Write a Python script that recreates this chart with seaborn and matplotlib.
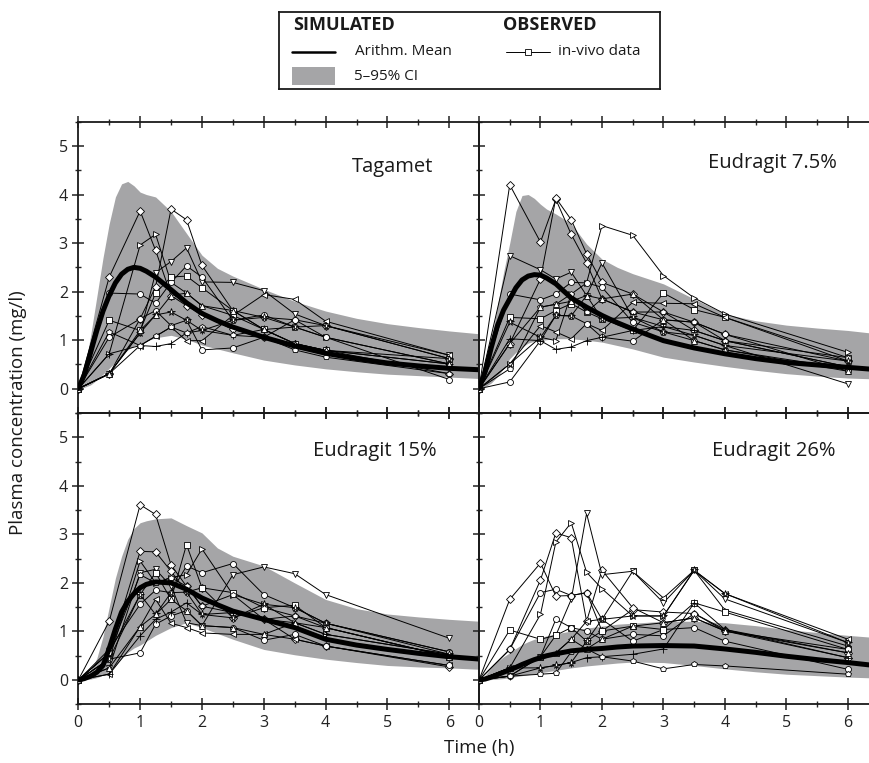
import numpy as np
import pandas as pd
import matplotlib
matplotlib.use("Agg")
import matplotlib.pyplot as plt
import seaborn as sns
from matplotlib.lines import Line2D
from matplotlib.patches import Rectangle
from matplotlib.ticker import MultipleLocator

sns.set_style("ticks")
plt.rcParams['font.family'] = ['Open Sans', 'DejaVu Sans']

# ---------------- data ----------------
panels = ["Tagamet", "Eudragit 7.5%", "Eudragit 15%", "Eudragit 26%"]

# sampling times of the in-vivo data (h)
t_obs = [0, 0.5, 1, 1.25, 1.5, 1.75, 2, 2.5, 3, 3.5, 4, 6]

# simulated time grid (h)
t_sim = [0, 0.1, 0.2, 0.3, 0.4, 0.5, 0.6, 0.7, 0.8, 0.9, 1.0, 1.1, 1.25, 1.5,
         1.75, 2.0, 2.25, 2.5, 3.0, 3.5, 4.0, 4.5, 5.0, 5.5, 6.0, 6.5]

mean_tagamet = [0, 0.30, 0.75, 1.20, 1.60, 1.92, 2.18, 2.36, 2.46, 2.50, 2.48, 2.42, 2.30, 2.04,
                1.77, 1.55, 1.40, 1.27, 1.06, 0.88, 0.73, 0.62, 0.53, 0.47, 0.42, 0.39]
upper_tagamet = [0, 0.40, 1.10, 1.90, 2.70, 3.40, 3.95, 4.22, 4.27, 4.18, 4.05, 4.00, 3.95, 3.65,
                 3.20, 2.75, 2.48, 2.32, 2.05, 1.80, 1.60, 1.45, 1.34, 1.26, 1.19, 1.13]
lower_tagamet = [0, 0.03, 0.08, 0.18, 0.30, 0.42, 0.55, 0.68, 0.80, 0.88, 0.92, 0.98, 1.05, 1.10,
                 1.02, 0.90, 0.82, 0.74, 0.59, 0.49, 0.41, 0.35, 0.30, 0.27, 0.24, 0.21]

mean_e75 = [0, 0.35, 0.85, 1.30, 1.62, 1.85, 2.08, 2.24, 2.32, 2.35, 2.34, 2.28, 2.16, 1.87,
            1.68, 1.51, 1.36, 1.23, 0.99, 0.84, 0.72, 0.62, 0.54, 0.49, 0.44, 0.39]
upper_e75 = [0, 0.40, 1.00, 1.70, 2.40, 3.00, 3.65, 3.98, 4.00, 3.92, 3.80, 3.70, 3.60, 3.40,
             2.98, 2.67, 2.50, 2.37, 2.16, 1.85, 1.54, 1.40, 1.31, 1.25, 1.20, 1.13]
lower_e75 = [0, 0.04, 0.12, 0.25, 0.42, 0.62, 0.75, 0.86, 0.94, 0.98, 0.99, 1.01, 1.03, 1.03,
             1.00, 0.96, 0.89, 0.82, 0.65, 0.55, 0.46, 0.38, 0.31, 0.26, 0.22, 0.20]

mean_e15 = [0, 0.03, 0.08, 0.16, 0.30, 0.65, 1.05, 1.40, 1.62, 1.78, 1.90, 1.97, 2.02, 2.00,
            1.87, 1.69, 1.55, 1.42, 1.25, 1.08, 0.84, 0.72, 0.63, 0.55, 0.48, 0.43]
upper_e15 = [0, 0.06, 0.20, 0.45, 0.90, 1.50, 2.10, 2.55, 2.90, 3.12, 3.24, 3.28, 3.32, 3.34,
             3.18, 3.03, 2.72, 2.55, 2.35, 2.00, 1.66, 1.47, 1.36, 1.30, 1.25, 1.21]
lower_e15 = [0, 0.01, 0.02, 0.05, 0.10, 0.18, 0.30, 0.45, 0.57, 0.66, 0.72, 0.80, 0.92, 1.08,
             1.18, 1.08, 0.96, 0.84, 0.63, 0.52, 0.43, 0.36, 0.30, 0.27, 0.25, 0.22]

mean_e26 = [0, 0.02, 0.06, 0.11, 0.16, 0.21, 0.26, 0.32, 0.37, 0.42, 0.46, 0.50, 0.54, 0.60,
            0.63, 0.65, 0.68, 0.70, 0.71, 0.70, 0.64, 0.57, 0.49, 0.42, 0.36, 0.29]
upper_e26 = [0, 0.10, 0.25, 0.38, 0.48, 0.56, 0.65, 0.73, 0.79, 0.84, 0.87, 0.91, 0.95, 1.01,
             1.07, 1.11, 1.15, 1.17, 1.21, 1.21, 1.18, 1.12, 1.04, 0.98, 0.92, 0.87]
lower_e26 = [0, 0.00, 0.01, 0.02, 0.03, 0.05, 0.07, 0.09, 0.11, 0.13, 0.15, 0.17, 0.20, 0.25,
             0.29, 0.32, 0.35, 0.37, 0.36, 0.30, 0.23, 0.17, 0.12, 0.09, 0.06, 0.04]

# observed individual profiles (mg/l) at t_obs, one list per subject
obs_tagamet = [
    [0, 2.30, 3.66, 2.85, 1.92, 1.71, 1.52, 1.22, 1.06, 0.93, 0.79, 0.31],
    [0, 0.30, 1.44, 2.10, 3.70, 3.48, 2.54, 1.61, 1.47, 1.42, 1.30, 0.62],
    [0, 0.72, 2.96, 3.18, 2.19, 1.97, 1.71, 1.51, 1.22, 1.27, 1.06, 0.51],
    [0, 0.31, 1.15, 2.39, 2.62, 2.90, 2.20, 2.19, 2.02, 1.54, 1.30, 0.69],
    [0, 1.97, 1.95, 1.76, 2.19, 2.53, 2.30, 1.41, 1.52, 1.27, 1.06, 0.51],
    [0, 1.41, 1.20, 1.97, 2.30, 2.32, 2.08, 1.61, 1.22, 0.93, 0.79, 0.62],
    [0, 0.31, 0.89, 1.08, 1.27, 0.99, 0.99, 1.51, 1.94, 1.84, 1.39, 0.69],
    [0, 1.06, 1.44, 1.61, 1.30, 1.41, 0.80, 0.84, 1.06, 1.42, 1.06, 0.19],
    [0, 0.72, 0.89, 0.87, 0.93, 1.15, 1.20, 1.10, 1.22, 0.93, 0.79, 0.51],
    [0, 1.17, 0.89, 1.08, 1.27, 1.15, 1.28, 1.10, 1.06, 0.80, 0.65, 0.31],
    [0, 0.31, 1.15, 1.52, 1.58, 1.41, 1.20, 1.41, 1.47, 1.27, 1.30, 0.62],
    [0, 0.31, 1.20, 1.52, 1.92, 1.97, 1.71, 1.61, 1.22, 0.93, 0.79, 0.51],
]
obs_e75 = [
    [0, 4.20, 3.02, 3.90, 3.18, 2.59, 1.85, 1.58, 1.42, 1.37, 1.12, 0.57],
    [0, 0.93, 2.26, 3.93, 3.48, 2.78, 2.19, 1.95, 1.58, 1.20, 0.99, 0.45],
    [0, 0.51, 1.06, 0.99, 1.95, 2.18, 3.36, 3.16, 2.33, 1.87, 1.54, 0.75],
    [0, 2.74, 2.45, 2.26, 2.40, 1.92, 2.59, 1.47, 1.28, 1.10, 0.89, 0.10],
    [0, 1.95, 1.83, 1.95, 2.19, 2.18, 2.09, 1.37, 1.17, 0.99, 0.80, 0.41],
    [0, 1.47, 1.44, 1.61, 1.75, 1.58, 1.44, 1.20, 1.97, 1.63, 1.47, 0.64],
    [0, 0.51, 1.30, 1.17, 1.03, 1.34, 1.20, 1.78, 1.76, 1.75, 1.47, 0.57],
    [0, 0.14, 0.99, 1.51, 1.50, 1.34, 1.06, 0.98, 1.42, 1.37, 1.12, 0.36],
    [0, 1.03, 0.99, 0.81, 0.86, 0.99, 1.06, 1.20, 1.28, 1.20, 0.99, 0.45],
    [0, 0.41, 1.68, 1.74, 1.95, 1.58, 1.85, 1.58, 1.58, 1.37, 0.99, 0.64],
    [0, 1.37, 1.06, 1.51, 1.50, 1.92, 1.44, 1.47, 1.17, 1.10, 0.89, 0.57],
    [0, 0.93, 1.68, 1.74, 1.80, 1.92, 1.85, 1.95, 1.42, 0.99, 0.80, 0.36],
]
obs_e15 = [
    [0, 1.21, 3.61, 3.41, 2.37, 1.93, 1.52, 1.39, 1.25, 0.84, 0.70, 0.27],
    [0, 0.56, 2.65, 2.64, 2.24, 1.81, 1.90, 1.28, 1.49, 1.32, 1.08, 0.48],
    [0, 0.43, 2.45, 2.00, 2.11, 2.17, 2.70, 1.76, 1.56, 1.18, 0.94, 0.53],
    [0, 0.25, 2.21, 2.28, 1.93, 1.18, 1.12, 2.17, 2.33, 2.19, 1.76, 0.86],
    [0, 0.63, 1.56, 1.85, 1.80, 2.35, 2.21, 2.40, 1.76, 1.49, 1.17, 0.58],
    [0, 0.56, 1.76, 2.21, 1.66, 2.79, 1.90, 1.80, 1.49, 1.54, 1.08, 0.48],
    [0, 0.12, 1.10, 1.66, 1.17, 1.08, 0.97, 0.94, 0.94, 0.84, 0.70, 0.30],
    [0, 0.43, 0.56, 1.15, 1.32, 1.43, 1.12, 1.08, 0.82, 0.94, 0.70, 0.30],
    [0, 0.12, 0.91, 1.25, 1.40, 1.59, 1.35, 1.39, 1.25, 1.18, 0.94, 0.53],
    [0, 0.56, 2.17, 2.00, 2.11, 1.93, 1.52, 1.76, 1.25, 1.32, 1.17, 0.58],
    [0, 0.43, 1.76, 1.35, 1.80, 1.81, 1.35, 1.28, 1.56, 1.49, 1.17, 0.53],
    [0, 0.25, 1.10, 1.35, 1.66, 1.43, 1.12, 1.08, 0.94, 1.18, 1.08, 0.48],
]
obs_e26 = [
    [0, 1.66, 2.41, 1.73, 1.74, 1.80, 1.01, 1.45, 1.40, 1.37, 1.04, 0.56],
    [0, 0.63, 2.06, 3.03, 2.93, 1.21, 2.26, 1.49, 1.18, 1.28, 1.01, 0.46],
    [0, 0.25, 1.35, 2.84, 3.24, 2.22, 1.88, 1.32, 1.32, 2.26, 1.44, 0.70],
    [0, 0.08, 0.48, 0.92, 1.66, 3.43, 2.17, 2.24, 1.59, 2.26, 1.67, 0.77],
    [0, 0.63, 1.80, 1.87, 1.74, 1.80, 1.25, 0.80, 1.04, 1.08, 0.80, 0.22],
    [0, 1.03, 0.84, 0.92, 1.08, 0.80, 1.01, 1.11, 1.04, 1.59, 1.40, 0.63],
    [0, 0.25, 0.48, 0.56, 0.84, 1.21, 1.25, 2.24, 1.69, 2.26, 1.78, 0.84],
    [0, 0.08, 0.48, 1.25, 1.08, 1.01, 0.84, 0.94, 0.91, 1.37, 1.01, 0.63],
    [0, 0.08, 0.25, 0.30, 0.36, 0.46, 0.48, 0.53, 0.64, 1.59, 1.04, 0.46],
    [0, 0.08, 0.12, 0.14, 0.58, 0.64, 0.48, 0.39, 0.23, 0.32, 0.29, 0.12],
    [0, 0.25, 0.25, 0.30, 0.36, 0.80, 1.25, 1.32, 1.32, 2.26, 1.78, 0.77],
    [0, 0.25, 0.48, 0.56, 0.84, 0.64, 0.84, 1.11, 1.18, 1.28, 1.01, 0.56],
]

subject_markers = ['D', 'D', '>', 'v', 'o', 's', '<', 'o', '+', 'p', '*', '^']

sim_means = [mean_tagamet, mean_e75, mean_e15, mean_e26]
sim_upper = [upper_tagamet, upper_e75, upper_e15, upper_e26]
sim_lower = [lower_tagamet, lower_e75, lower_e15, lower_e26]
observed = [obs_tagamet, obs_e75, obs_e15, obs_e26]

# ---------------- figure ----------------
W, H = 870, 763
fig = plt.figure(figsize=(W / 100, H / 100), dpi=100)

def fx(px):
    return px / W

def fy(py):
    return 1 - py / H

x0, xm, x1 = 78.3, 479.0, 870.0
ytop, ymid, ybot = 121.7, 413.0, 704.3
boxes = [
    (fx(x0), fy(ymid), fx(xm - x0), (ymid - ytop) / H),
    (fx(xm), fy(ymid), fx(x1 - xm), (ymid - ytop) / H),
    (fx(x0), fy(ybot), fx(xm - x0), (ybot - ymid) / H),
    (fx(xm), fy(ybot), fx(x1 - xm), (ybot - ymid) / H),
]
xlims = [(0, 6.48), (0, 6.36), (0, 6.48), (0, 6.36)]
title_pos = [(5.74, 4.46), (5.82, 4.55), (5.80, 4.61), (5.80, 4.62)]

band_color = '#a5a5a7'

for i, name in enumerate(panels):
    ax = fig.add_axes(boxes[i])
    ax.fill_between(t_sim, sim_lower[i], sim_upper[i], color=band_color,
                    linewidth=0, zorder=1)
    for j, prof in enumerate(observed[i]):
        df = pd.DataFrame({'t': t_obs, 'c': prof})
        m = subject_markers[j]
        sns.lineplot(data=df, x='t', y='c', ax=ax, color='black', lw=0.7,
                     marker=m, markersize=4.3 if m not in ('*', '+') else 5.5,
                     markerfacecolor='white', markeredgecolor='black',
                     markeredgewidth=0.6, zorder=3)
    dfm = pd.DataFrame({'t': t_sim, 'c': sim_means[i]})
    sns.lineplot(data=dfm, x='t', y='c', ax=ax, color='black', lw=3.6, zorder=4)

    ax.set_xlim(*xlims[i])
    ax.set_ylim(-0.5, 5.5)
    ax.xaxis.set_major_locator(MultipleLocator(1))
    ax.xaxis.set_minor_locator(MultipleLocator(0.5))
    ax.yaxis.set_major_locator(MultipleLocator(1))
    ax.yaxis.set_minor_locator(MultipleLocator(0.5))
    ax.tick_params(which='major', direction='inout', length=8, width=1.1,
                   top=True, bottom=True, left=True, right=False, labelsize=11.5,
                   colors='#222222')
    ax.tick_params(which='minor', direction='inout', length=4.5, width=1.0,
                   top=True, bottom=True, left=True, right=False)
    ax.set_xlabel('')
    ax.set_ylabel('')
    for s in ax.spines.values():
        s.set_linewidth(1.3)
        s.set_color('#1a1a1a')
    if i in (1, 3):
        ax.spines['right'].set_visible(False)
        ax.tick_params(labelleft=False)
    if i in (0, 1):
        ax.tick_params(labelbottom=False)
    ax.patch.set_alpha(0)
    ax.text(title_pos[i][0], title_pos[i][1], name, ha='right', va='baseline',
            fontsize=14.5, color='#1a1a1a', zorder=5)

fig.text(fx(18), fy(413), 'Plasma concentration (mg/l)', rotation=90,
         ha='center', va='center', fontsize=13.5, color='#1a1a1a')
fig.text(fx(479), fy(748), 'Time (h)', ha='center', va='center',
         fontsize=13.5, color='#1a1a1a')

# ---------------- legend box ----------------
lx0, lx1, ly0, ly1 = 279, 660, 11.7, 89.3
lax = fig.add_axes((fx(lx0), fy(ly1), fx(lx1 - lx0), (ly1 - ly0) / H))
lax.set_xlim(0, 1)
lax.set_ylim(0, 1)
lax.set_xticks([])
lax.set_yticks([])
for s in lax.spines.values():
    s.set_linewidth(1.3)
    s.set_color('#1a1a1a')

lax.text(0.037, 0.83, 'SIMULATED', fontsize=13, fontweight='bold',
         ha='left', va='center', color='#1a1a1a')
lax.text(0.587, 0.83, 'OBSERVED', fontsize=13, fontweight='bold',
         ha='left', va='center', color='#1a1a1a')
lax.add_line(Line2D([0.033, 0.147], [0.485, 0.485], color='black', lw=1.8))
lax.text(0.199, 0.485, 'Arithm. Mean', fontsize=11, ha='left', va='center',
         color='#1a1a1a')
lax.add_patch(Rectangle((0.033, 0.055), 0.114, 0.236, color=band_color, lw=0))
lax.text(0.197, 0.16, '5\u201395% CI', fontsize=11, ha='left', va='center',
         color='#1a1a1a')
lax.add_line(Line2D([0.596, 0.711], [0.485, 0.485], color='black', lw=0.7))
lax.add_line(Line2D([0.654], [0.485], color='black', lw=0, marker='s',
                    markersize=4.0, markerfacecolor='white',
                    markeredgecolor='black', markeredgewidth=0.6))
lax.text(0.732, 0.485, 'in-vivo data', fontsize=11, ha='left', va='center',
         color='#1a1a1a')

fig.savefig('out.png', dpi=100)
